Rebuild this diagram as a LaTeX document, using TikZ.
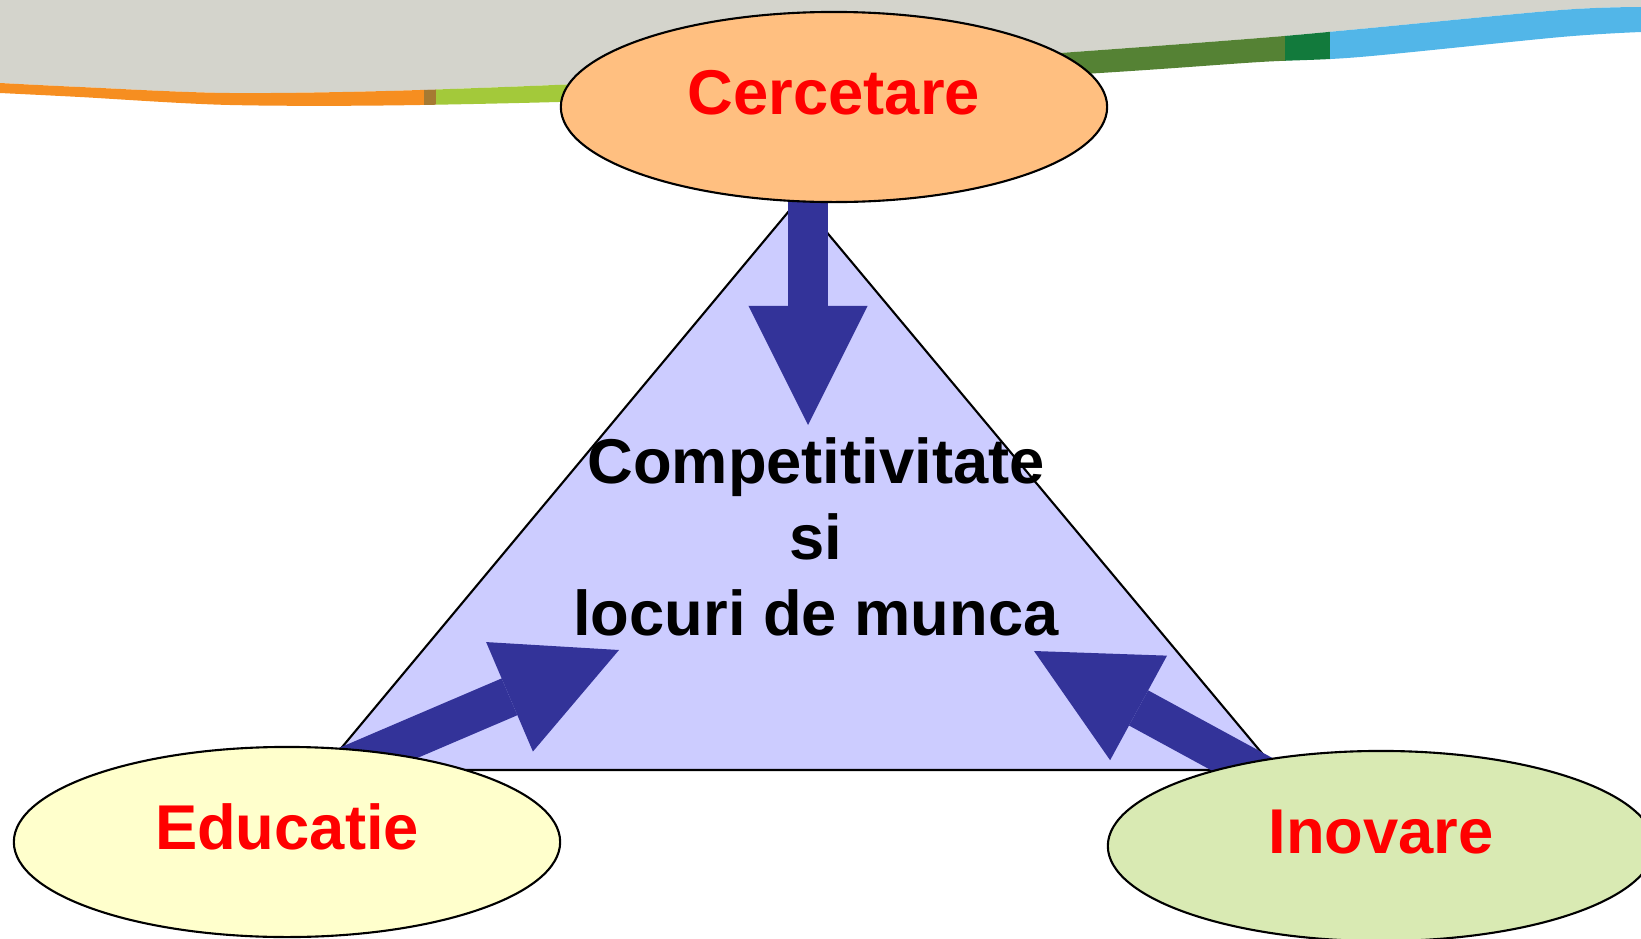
\documentclass[tikz,border=0pt]{standalone}
\usepackage{fontspec}
\setmainfont{Liberation Sans}
\usetikzlibrary{arrows.meta,shapes.geometric,calc}
\definecolor{bannergray}{RGB}{212,212,204}
\definecolor{bandorange}{RGB}{246,142,32}
\definecolor{bandbrown}{RGB}{166,122,50}
\definecolor{bandlime}{RGB}{163,201,58}
\definecolor{bandolive}{RGB}{85,130,52}
\definecolor{bandgreen}{RGB}{18,122,60}
\definecolor{bandblue}{RGB}{82,182,232}
\definecolor{trifill}{RGB}{204,204,255}
\definecolor{arrowblue}{RGB}{51,51,153}
\definecolor{cercfill}{RGB}{255,191,128}
\definecolor{educfill}{RGB}{255,255,204}
\definecolor{inovfill}{RGB}{217,234,179}
\pgfdeclarelayer{back}
\pgfsetlayers{back,main}

\begin{document}
\begin{tikzpicture}[x=0.01cm,y=-0.01cm,
  topic/.style={ellipse,draw,line width=0.6pt,minimum width=5.46cm,
                minimum height=1.9cm,inner sep=0pt,text=red,
                text height=0.46cm,text depth=0.31cm},
  goal/.style={align=center,inner sep=0pt,text=black},
  pushes/.style={draw=arrowblue,line width=0.4cm,
                 -{Triangle[length=1.19cm,width=1.19cm,line width=0pt]}},
  every node/.style={font=\fontsize{18}{21.6}\selectfont\bfseries}]
\useasboundingbox (0,0) rectangle (1641,939);
\node[topic,fill=cercfill] (cerc) at (834,107) {Cercetare};
\node[topic,fill=educfill] (educ) at (287,842) {Educatie};
\node[topic,fill=inovfill] (inov) at (1381,846) {Inovare};
\node[goal] (comp) at (816,537) {Competitivitate\\si\\locuri de munca};
\coordinate (cercTip) at (808,425);
\coordinate (educTip) at (619,650);
\coordinate (inovTip) at (1034,651);
\begin{pgfonlayer}{back}
% banner
\fill[bannergray] (0,0) -- plot[smooth] coordinates {(0,83) (80,87) (230,93)
  (420,90) (700,78) (1060,53) (1260,38) (1360,29) (1561,10) (1641,7)}
  -- (1641,0) -- cycle;
\foreach \xa/\xb/\col in {0/424/bandorange,424/436/bandbrown,436/830/bandlime,
  830/1285/bandolive,1285/1330/bandgreen,1330/1641/bandblue}{
  \begin{scope}
  \clip (\xa,0) rectangle (\xb,130);
  \fill[\col] plot[smooth] coordinates {(0,83) (80,87) (230,93) (420,90)
    (700,78) (1060,53) (1260,38) (1360,29) (1561,10) (1641,7)}
    -- plot[smooth] coordinates {(1641,32) (1561,37) (1360,57) (1260,62)
    (1100,73) (700,97) (420,105) (230,105) (80,97) (0,93)} -- cycle;
  \end{scope}}
% triangle
\draw[fill=trifill,line width=0.6pt] (323,770) -- (799,199) -- (1276,770) -- cycle;
% arrows
\draw[pushes] ($(cerc.south)+(-26,-10)$) -- (cercTip);
\draw[pushes] ($(educ.center)+(56,-74)$) -- (educTip);
\draw[pushes] ($(inov.center)+(-110,-66)$) -- (inovTip);
\end{pgfonlayer}
\end{tikzpicture}
\end{document}
